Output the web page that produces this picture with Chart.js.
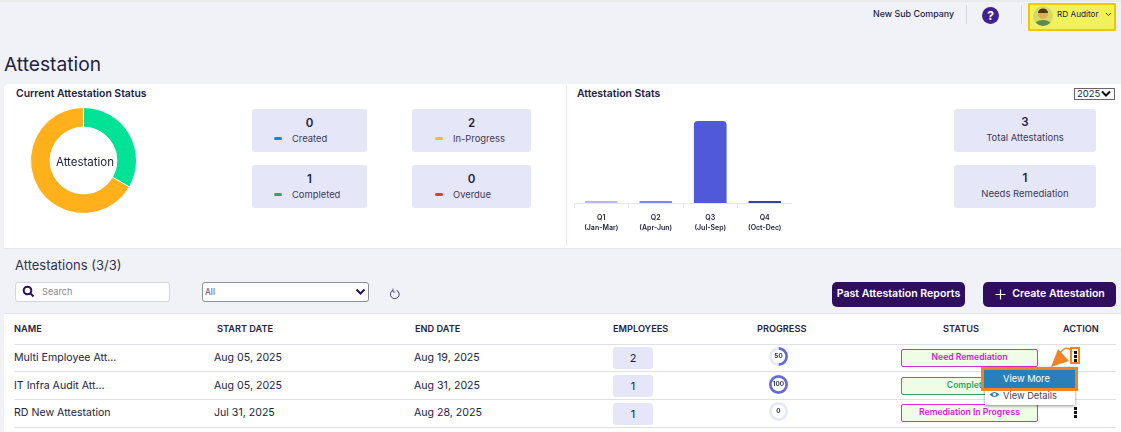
<!DOCTYPE html>
<html>
<head>
<meta charset="utf-8">
<title>Attestation</title>
<script src="https://cdn.jsdelivr.net/npm/chart.js@4"></script>
<style>
  html, body { margin: 0; padding: 0; }
  body { width: 1121px; height: 432px; overflow: hidden; background: #f1f2f8; position: relative;
         font-family: Inter, "Noto Sans", sans-serif; color: #23233f; }
  .abs, .card, .pill, .badge, .head, .cell, .line { position: absolute; }
  .panel { position: absolute; background: #fff; }
  .card { background: #e6e6f9; border-radius: 3px; text-align: center; }
  .card b { position: absolute; left: 0; right: 0; top: 7px; font-size: 11.5px; font-weight: 600; }
  .card span { position: absolute; left: 0; right: 0; top: 23px; font-size: 9.5px; color: #3b3b58; }
  .card i { position: absolute; top: 28px; width: 8px; height: 3px; border-radius: 2px; }
  .card em { position: absolute; top: 24px; font-style: normal; font-size: 9.4px; color: #3b3b58; white-space: nowrap; }
  .title { position: absolute; font-size: 10.4px; font-weight: 600; white-space: nowrap; }
  .head { font-size: 9.2px; font-weight: 600; top: 323px; white-space: nowrap; }
  .cell { font-size: 10.6px; white-space: nowrap; }
  .line { left: 14px; width: 1102px; height: 1px; background: #dfe0e6; }
  .pill { left: 613px; width: 40px; background: #e6e6f9; border-radius: 3px; text-align: center; font-size: 11px; }
  .badge { left: 901px; width: 135px; background: #effde6; border: 1px solid; border-radius: 2px; text-align: center;
           font-size: 8.6px; font-weight: 600; white-space: nowrap; }
  .btn { position: absolute; top: 282px; height: 25px; line-height: 24px; background: #2f0f5d; color: #fff; border-radius: 5px;
         text-align: center; font-size: 10.6px; font-weight: 600; white-space: nowrap; }
  .dots { position: absolute; left: 1074px; width: 2.5px; height: 2.5px; background: #111; box-shadow: 0 4px 0 #111, 0 8px 0 #111; }
  canvas { position: absolute; }
</style>
</head>
<body>
<!-- top bar -->
<div class="abs" style="left:0;top:0;width:1121px;height:2px;background:#e9e9ee"></div>
<div class="abs" style="left:873px;top:8px;font-size:8.9px;font-weight:500;white-space:nowrap">New Sub Company</div>
<div class="abs" style="left:966px;top:5px;width:1px;height:19px;background:#d5d6dc"></div>
<div class="abs" style="left:1021px;top:5px;width:1px;height:19px;background:#d5d6dc"></div>
<div class="abs" style="left:982px;top:7px;width:17px;height:17px;border-radius:50%;background:#43208f;color:#fff;font-size:12px;font-weight:700;text-align:center;line-height:17px">?</div>
<div class="abs" style="left:1028px;top:3px;width:84px;height:24px;background:#f0f25c;border:2px solid #f0c800"></div>
<svg class="abs" style="left:1032px;top:5px" width="22" height="22" viewBox="0 0 22 22">
  <clipPath id="av"><circle cx="11" cy="11" r="10"/></clipPath>
  <g clip-path="url(#av)"><rect width="22" height="22" fill="#d8d86a"/>
  <ellipse cx="11" cy="23" rx="10" ry="8" fill="#5d8a4d"/><circle cx="11" cy="9" r="5" fill="#e2b04a"/>
  <path d="M6 8a5 4.5 0 0 1 10 0z" fill="#4a3a20"/></g>
</svg>
<div class="abs" style="left:1057px;top:9px;font-size:8.2px;font-weight:400;white-space:nowrap">RD Auditor</div>
<svg class="abs" style="left:1105px;top:12px" width="7" height="5"><path d="M1 1l2.5 2.5L6 1" fill="none" stroke="#333" stroke-width="1"/></svg>

<div class="abs" style="left:4px;top:52px;font-size:19.2px;white-space:nowrap">Attestation</div>

<!-- status panel -->
<div class="panel" style="left:4px;top:84px;width:1117px;height:164px;border-radius:5px 0 0 0;border-bottom:1px solid #e4e5ea"></div>
<div class="abs" style="left:566px;top:86px;width:1px;height:160px;background:#e8e9ef"></div>
<div class="title" style="left:16px;top:87px">Current Attestation Status</div>
<div class="title" style="left:577px;top:87px">Attestation Stats</div>
<canvas id="status-canvas" style="left:30px;top:107px;width:107px;height:107px"></canvas>
<div class="abs" style="left:31px;top:155px;width:108px;text-align:center;font-size:11.5px">Attestation</div>

<div class="card" style="left:252px;top:109px;width:115px;height:43px"><b id="c0"></b><i style="left:22px;background:#0a84f0"></i><em style="left:40px" id="l0"></em></div>
<div class="card" style="left:412px;top:109px;width:119px;height:43px"><b id="c1"></b><i style="left:23px;background:#ffb627"></i><em style="left:41px" id="l1"></em></div>
<div class="card" style="left:252px;top:165px;width:115px;height:43px"><b id="c2"></b><i style="left:22px;background:#2fa65f"></i><em style="left:40px" id="l2"></em></div>
<div class="card" style="left:412px;top:165px;width:119px;height:43px"><b id="c3"></b><i style="left:23px;background:#e5343d"></i><em style="left:41px" id="l3"></em></div>

<div class="abs" style="left:1074px;top:88px;height:10px;border:1px solid #666;background:#fff;font-size:9.5px;line-height:10px;padding-left:2px;width:37px">2025</div>
<svg class="abs" style="left:1101px;top:90px" width="10" height="8"><path d="M1 1.5l4 4 4-4" fill="none" stroke="#111" stroke-width="2"/></svg>

<canvas id="quarter-canvas" style="left:574px;top:121px;width:218px;height:120px"></canvas>

<div class="card" style="left:954px;top:109px;width:142px;height:43px"><b id="t0" style="top:6px"></b><span id="t0l"></span></div>
<div class="card" style="left:954px;top:165px;width:142px;height:43px"><b id="t1" style="top:6px"></b><span id="t1l"></span></div>

<!-- list toolbar -->
<div class="abs" style="left:15px;top:257px;font-size:13px;color:#33334d;white-space:nowrap">Attestations (3/3)</div>
<div class="abs" style="left:15px;top:282px;width:155px;height:20px;background:#fff;border:1px solid #d4d5dc;border-radius:3px;box-sizing:border-box"></div>
<svg class="abs" style="left:22px;top:285px" width="13" height="13"><circle cx="5.5" cy="5.5" r="3.8" fill="none" stroke="#2f0f5d" stroke-width="2"/><path d="M8.5 8.5l3 3" stroke="#2f0f5d" stroke-width="2"/></svg>
<div class="abs" style="left:42px;top:286px;font-size:9.2px;color:#8a8a96">Search</div>
<div class="abs" style="left:202px;top:282px;width:167px;height:20px;background:#fff;border:1px solid #8d8d94;border-radius:3px;box-sizing:border-box"></div>
<div class="abs" style="left:205px;top:287px;font-size:8.5px;color:#5a4a8a">All</div>
<svg class="abs" style="left:355px;top:288px" width="11" height="8"><path d="M1.5 1.5l4 4 4-4" fill="none" stroke="#2f0f5d" stroke-width="2"/></svg>
<svg class="abs" style="left:389px;top:288px" width="12" height="13"><path d="M7.5 2.2a4.4 4.4 0 1 1-3.5 0" fill="none" stroke="#4a3a80" stroke-width="1"/><path d="M4 0.5v3.5h2.5" fill="none" stroke="#4a3a80" stroke-width="0.8"/></svg>
<div class="btn" style="left:832px;width:133px">Past Attestation Reports</div>
<div class="btn" style="left:983px;width:133px;padding-left:18px;box-sizing:border-box">Create Attestation</div>
<svg class="abs" style="left:994px;top:288px" width="13" height="13"><path d="M6.5 1.5v10M1.5 6.5h10" stroke="#fff" stroke-width="1.2"/></svg>

<!-- table -->
<div class="panel" style="left:4px;top:313px;width:1117px;height:119px;border-top:1px solid #e4e5ea;box-sizing:border-box"></div>
<div id="table-rows"></div>
<canvas id="progress-0" style="left:769px;top:347px;width:19px;height:19px"></canvas>
<canvas id="progress-1" style="left:769px;top:375px;width:19px;height:19px"></canvas>
<canvas id="progress-2" style="left:769px;top:402px;width:19px;height:19px"></canvas>

<!-- highlighted menu -->
<div class="abs" style="left:985px;top:367px;width:90px;height:38px;background:#fff;box-shadow:0 1px 3px rgba(0,0,0,.45)"></div>
<div class="abs" style="left:981px;top:367px;width:91px;height:18px;background:#2a7fb8;border:3px solid #f58220;color:#fff;font-size:9.3px;line-height:18px;text-indent:19px;white-space:nowrap">View More</div>
<svg class="abs" style="left:989px;top:390px" width="11" height="9"><path d="M0.5 4.5q5-5 10 0q-5 5-10 0z" fill="#2a7fb8"/><circle cx="5.5" cy="4.5" r="1.6" fill="#fff"/></svg>
<div class="abs" style="left:1003px;top:390px;font-size:9.3px;color:#44445c;white-space:nowrap">View Details</div>
<svg class="abs" style="left:1047px;top:345px" width="26" height="24">
  <path d="M13 8q7-9 12-1" fill="none" stroke="#f58220" stroke-width="1.6"/>
  <path d="M4 22l7-18 11 12z" fill="#f58220"/>
</svg>
<div class="abs" style="left:1070px;top:347px;width:6px;height:13px;border:2px solid #f58220"></div>

<script>
// top cards and quarter chart
const statusLabels = ['Completed', 'In-Progress'];
const statusValues = [1, 2];
const statusColors = ['#00e396', '#ffb01a'];

const cardLabels = ['Created', 'In-Progress', 'Completed', 'Overdue'];
const cardValues = [0, 2, 1, 0];

const quarterLabels = [['Q1', '(Jan-Mar)'], ['Q2', '(Apr-Jun)'], ['Q3', '(Jul-Sep)'], ['Q4', '(Oct-Dec)']];
const quarterValues = [0, 0, 3, 0];
const quarterColors = ['#b4b9f0', '#7f86e6', '#4f59d9', '#3a429f'];

const totalLabels = ['Total Attestations', 'Needs Remediation'];
const totalValues = [3, 1];

// table rows
const names = ['Multi Employee Att...', 'IT Infra Audit Att...', 'RD New Attestation'];
const startDates = ['Aug 05, 2025', 'Aug 05, 2025', 'Jul 31, 2025'];
const endDates = ['Aug 19, 2025', 'Aug 31, 2025', 'Aug 28, 2025'];
const employees = [2, 1, 1];
const progress = [50, 100, 0];
const statuses = ['Need Remediation', 'Completed', 'Remediation In Progress'];
const statusBorder = ['#d82ad8', '#2fa65f', '#d82ad8'];
const columnNames = ['NAME', 'START DATE', 'END DATE', 'EMPLOYEES', 'PROGRESS', 'STATUS', 'ACTION'];
const columnLeft = [14, 217, 415, 613, 757, 943, 1063];

cardLabels.forEach(function(label, i) {
  document.getElementById('c' + i).textContent = cardValues[i];
  document.getElementById('l' + i).textContent = label;
});
totalLabels.forEach(function(label, i) {
  document.getElementById('t' + i).textContent = totalValues[i];
  document.getElementById('t' + i + 'l').textContent = label;
});

// Building the table
let rows = document.getElementById('table-rows');
let html = '';
columnNames.forEach(function(c, i) {
  html += '<div class="head" style="left:' + columnLeft[i] + 'px">' + c + '</div>';
});
let rowTop = [344, 371, 399];
let textTop = [351, 379, 406];
let pillTop = [347, 375, 403];
let badgeTop = [349, 377, 404];
names.forEach(function(n, i) {
  html += '<div class="line" style="top:' + rowTop[i] + 'px"></div>';
  html += '<div class="cell" style="left:14px;top:' + textTop[i] + 'px">' + n + '</div>';
  html += '<div class="cell" style="left:214px;top:' + textTop[i] + 'px">' + startDates[i] + '</div>';
  html += '<div class="cell" style="left:414px;top:' + textTop[i] + 'px">' + endDates[i] + '</div>';
  html += '<div class="pill" style="top:' + pillTop[i] + 'px;height:22px;line-height:22px">' + employees[i] + '</div>';
  html += '<div class="badge" style="top:' + badgeTop[i] + 'px;height:16px;line-height:15px;border-color:' + statusBorder[i] +
          ';color:' + (statusBorder[i] === '#2fa65f' ? '#2fa65f' : '#d020d0') + '">' + statuses[i] + '</div>';
});
html += '<div class="line" style="top:427px"></div>';
html += '<div class="dots" style="top:351px"></div><div class="dots" style="top:407px"></div>';
rows.innerHTML = html;

new Chart(document.getElementById('status-canvas'), {
  type: 'doughnut',
  data: {
    labels: statusLabels,
    datasets: [{ data: statusValues, backgroundColor: statusColors, borderColor: '#fff', borderWidth: 1 }]
  },
  options: {
    responsive: false,
    animation: false,
    cutout: '63%',
    layout: { padding: 0 },
    plugins: { legend: { display: false }, tooltip: { enabled: false } }
  }
});

new Chart(document.getElementById('quarter-canvas'), {
  type: 'bar',
  data: {
    labels: quarterLabels,
    datasets: [{
      data: quarterValues,
      backgroundColor: quarterColors,
      borderRadius: { topLeft: 4, topRight: 4 },
      borderSkipped: 'bottom',
      minBarLength: 2,
      categoryPercentage: 1,
      barPercentage: 0.6
    }]
  },
  options: {
    responsive: false,
    animation: false,
    layout: { padding: 0 },
    plugins: { legend: { display: false }, tooltip: { enabled: false } },
    scales: {
      y: { display: false, min: 0, max: 3 },
      x: {
        afterFit: function(scale) { scale.height = 38; },
        grid: { drawOnChartArea: false, color: '#e6e6ec', tickLength: 5 },
        border: { color: '#e6e6ec' },
        ticks: { color: '#23233f', font: { family: 'Inter', size: 7, weight: '600', lineHeight: 1.55 }, padding: 4, maxRotation: 0, autoSkip: false }
      }
    }
  }
});

// Small progress rings, the number is drawn in the middle
let ring_label = {
  id: 'ringLabel',
  afterDraw: function(chart) {
    let ctx = chart.ctx;
    let arc = chart.getDatasetMeta(0).data[0];
    ctx.save();
    ctx.font = '600 6.5px Inter';
    ctx.fillStyle = '#23233f';
    ctx.textAlign = 'center';
    ctx.textBaseline = 'middle';
    ctx.fillText(chart.data.datasets[0].data[0], arc.x, arc.y);
    ctx.restore();
  }
};
progress.forEach(function(p, i) {
  new Chart(document.getElementById('progress-' + i), {
    type: 'doughnut',
    data: {
      labels: ['Done', 'Left'],
      datasets: [{ data: [p, 100 - p], backgroundColor: ['#626bdc', '#e6e7fa'], borderWidth: 0 }]
    },
    options: {
      responsive: false,
      animation: false,
      cutout: '72%',
      plugins: { legend: { display: false }, tooltip: { enabled: false } }
    },
    plugins: [ring_label]
  });
});
</script>
</body>
</html>
